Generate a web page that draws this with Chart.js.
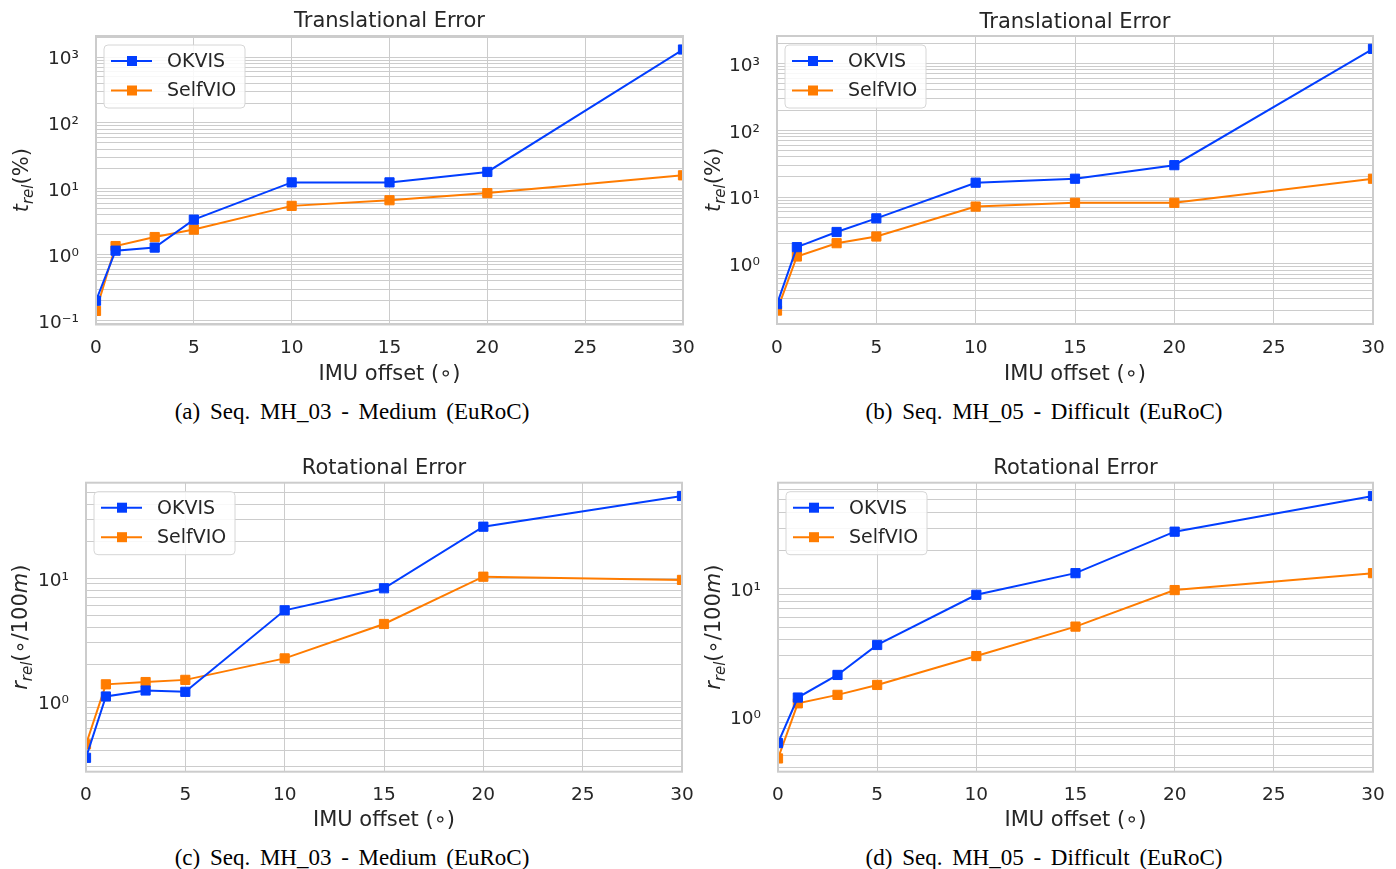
<!DOCTYPE html>
<html>
<head>
<meta charset="utf-8">
<script src="https://cdn.jsdelivr.net/npm/chart.js@4/dist/chart.umd.min.js"></script>
<style>
  body { margin: 0; background: #fff; width: 1396px; height: 869px; overflow: hidden; position: relative; }
  canvas { position: absolute; }
  .cap { position: absolute; width: 600px; text-align: center; font-family: "Liberation Serif", serif;
         font-size: 23px; line-height: 23px; word-spacing: 4px; color: #000; }
</style>
</head>
<body>
<canvas id="chartA" width="698" height="390" style="left:0;top:0"></canvas>
<canvas id="chartB" width="698" height="390" style="left:698px;top:0"></canvas>
<canvas id="chartC" width="698" height="400" style="left:0;top:440px"></canvas>
<canvas id="chartD" width="698" height="400" style="left:698px;top:440px"></canvas>
<div class="cap" style="left:52px;top:400px">(a) Seq. MH_03 - Medium (EuRoC)</div>
<div class="cap" style="left:744px;top:400px">(b) Seq. MH_05 - Difficult (EuRoC)</div>
<div class="cap" style="left:52px;top:846px">(c) Seq. MH_03 - Medium (EuRoC)</div>
<div class="cap" style="left:744px;top:846px">(d) Seq. MH_05 - Difficult (EuRoC)</div>
<script>
// IMU offsets (degrees) shared by every panel
const offsets = [0, 1, 3, 5, 10, 15, 20, 30];

// translational error t_rel (%)
const okvisTransMH03 = [0.2, 1.15, 1.28, 3.4, 12.5, 12.5, 18, 1300];
const selfvioTransMH03 = [0.14, 1.35, 1.85, 2.4, 5.5, 6.7, 8.6, 16];
const okvisTransMH05 = [0.25, 1.78, 3.0, 4.8, 16.4, 18.8, 30, 1650];
const selfvioTransMH05 = [0.2, 1.29, 2.04, 2.57, 7.2, 8.2, 8.2, 18.8];

// rotational error r_rel (deg/100m)
const okvisRotMH03 = [0.35, 1.1, 1.23, 1.2, 5.5, 8.3, 26.2, 46.5];
const selfvioRotMH03 = [0.45, 1.38, 1.44, 1.5, 2.24, 4.26, 10.3, 9.7];
const okvisRotMH05 = [0.62, 1.41, 2.12, 3.64, 9.0, 13.3, 28.1, 53.5];
const selfvioRotMH05 = [0.47, 1.27, 1.48, 1.77, 2.98, 5.07, 9.8, 13.3];

const seriesNames = ["OKVIS", "SelfVIO"];
const xTickStep = 5;

const BLUE = '#023eff';
const ORANGE = '#ff7c00';
const GRID = '#cccccc';
const TEXT = '#262626';
const FONT = '"DejaVu Sans"';

Chart.defaults.font.family = FONT;
Chart.defaults.color = TEXT;

const SUP = {'-': '\u207B', '0': '\u2070', '1': '\u00B9', '2': '\u00B2', '3': '\u00B3', '4': '\u2074'};
function powLabel(v) {
    const e = Math.round(Math.log10(v));
    if (Math.abs(v - Math.pow(10, e)) > 1e-9 * v) return '';
    return '10' + String(e).split('').map(c => SUP[c]).join('');
}

const transLabel = [
    {t: 't', italic: true}, {t: 'rel', italic: true, sub: true}, {t: '(%)'}
];
const rotLabel = [
    {t: 'r', italic: true}, {t: 'rel', italic: true, sub: true},
    {t: '(\u2218/100'}, {t: 'm', italic: true}, {t: ')'}
];

// legend box, frame and y-axis label (with subscript)
const panelDecor = {
    id: 'panelDecor',
    afterDatasetsDraw(chart, args, opts) {
        const a = chart.chartArea, ctx = chart.ctx;
        ctx.save();
        ctx.strokeStyle = GRID;
        ctx.lineWidth = 2;
        ctx.strokeRect(a.left, a.top, a.right - a.left, a.bottom - a.top);

        // legend
        const bx = a.left + 8, by = a.top + 9, bw = 141, bh = 63;
        ctx.beginPath();
        ctx.roundRect(bx, by, bw, bh, 4);
        ctx.fillStyle = 'rgba(255,255,255,0.85)';
        ctx.fill();
        ctx.strokeStyle = '#d6d6d6';
        ctx.lineWidth = 1;
        ctx.stroke();
        chart.data.datasets.forEach((ds, i) => {
            const y = by + 16 + i * 29.5;
            ctx.strokeStyle = ds.borderColor;
            ctx.lineWidth = 2;
            ctx.beginPath();
            ctx.moveTo(bx + 7, y);
            ctx.lineTo(bx + 48, y);
            ctx.stroke();
            ctx.fillStyle = ds.borderColor;
            ctx.fillRect(bx + 23, y - 5, 10, 10);
            ctx.fillStyle = TEXT;
            ctx.font = '19px ' + FONT;
            ctx.textBaseline = 'middle';
            ctx.textAlign = 'left';
            ctx.fillText(ds.label, bx + 63, y + 1);
        });

        // y-axis title
        const fontOf = p => (p.italic ? 'italic ' : '') + (p.sub ? 15 : 21) + 'px ' + FONT;
        let total = 0;
        opts.yTitle.forEach(p => { ctx.font = fontOf(p); total += ctx.measureText(p.t).width; });
        ctx.translate(opts.yTitleX, (a.top + a.bottom) / 2);
        ctx.rotate(-Math.PI / 2);
        ctx.fillStyle = TEXT;
        ctx.textBaseline = 'alphabetic';
        let x = -total / 2;
        opts.yTitle.forEach(p => {
            ctx.font = fontOf(p);
            ctx.fillText(p.t, x, p.sub ? 12 : 7);
            x += ctx.measureText(p.t).width;
        });
        ctx.restore();
    }
};

function makePanel(id, title, okvis, selfvio, yMin, yMax, yTitle, box) {
    const canvas = document.getElementById(id);
    const W = canvas.width, H = canvas.height;
    return new Chart(canvas, {
        type: 'line',
        data: {
            datasets: [
                {label: seriesNames[0], data: offsets.map((x, i) => ({x, y: okvis[i]})), borderColor: BLUE, backgroundColor: BLUE},
                {label: seriesNames[1], data: offsets.map((x, i) => ({x, y: selfvio[i]})), borderColor: ORANGE, backgroundColor: ORANGE}
            ]
        },
        options: {
            responsive: false,
            animation: false,
            layout: {padding: {left: 0, top: box.titleTop, right: W - box.r, bottom: 0}},
            elements: {
                line: {borderWidth: 2, tension: 0},
                point: {pointStyle: 'rect', radius: 6.5, borderWidth: 1, hoverRadius: 6.5}
            },
            scales: {
                x: {
                    type: 'linear', min: 0, max: 30,
                    ticks: {stepSize: xTickStep, font: {size: 18.5}, padding: box.xTickPad, color: TEXT},
                    grid: {color: GRID, lineWidth: 1, drawTicks: false},
                    border: {display: false},
                    title: {display: true, text: 'IMU offset (\u2218)', font: {size: 21}, color: TEXT,
                            padding: {top: 0, bottom: box.xTitleBottom}},
                    afterFit: s => { s.height = H - box.b; s.paddingLeft = 0; s.paddingRight = 0; }
                },
                y: {
                    type: 'logarithmic', min: yMin, max: yMax,
                    afterBuildTicks: s => {
                        const t = [];
                        for (let e = Math.floor(Math.log10(s.min)); e <= Math.ceil(Math.log10(s.max)); e++) {
                            for (let m = 1; m < 10; m++) {
                                const v = m * Math.pow(10, e);
                                if (v >= s.min && v <= s.max) t.push({value: v});
                            }
                        }
                        s.ticks = t;
                    },
                    ticks: {autoSkip: false, callback: v => powLabel(v), font: {size: 18.5}, padding: 17,
                            labelOffset: 2.5, color: TEXT},
                    grid: {color: GRID, lineWidth: 1, drawTicks: false},
                    border: {display: false},
                    afterFit: s => { s.width = box.l; s.paddingTop = 0; s.paddingBottom = 0; }
                }
            },
            plugins: {
                legend: {display: false},
                tooltip: {enabled: false},
                title: {display: true, text: title, fullSize: false, color: TEXT,
                        font: {size: 21, weight: 'normal'},
                        padding: {top: 0, bottom: box.t - box.titleTop - 25.2}},
                panelDecor: {yTitle: yTitle, yTitleX: box.yTitleX}
            }
        },
        plugins: [panelDecor]
    });
}

makePanel('chartA', 'Translational Error', okvisTransMH03, selfvioTransMH03, 0.087, 2085, transLabel,
    {l: 96, t: 36, r: 683, b: 324.5, titleTop: 9.4, xTickPad: 13, xTitleBottom: 2.4, yTitleX: 21});
makePanel('chartB', 'Translational Error', okvisTransMH05, selfvioTransMH05, 0.126, 2570, transLabel,
    {l: 79, t: 36, r: 675, b: 324, titleTop: 10.2, xTickPad: 13, xTitleBottom: 2.4, yTitleX: 15});
makePanel('chartC', 'Rotational Error', okvisRotMH03, selfvioRotMH03, 0.27, 59.6, rotLabel,
    {l: 86, t: 42.7, r: 682, b: 331.7, titleTop: 16.2, xTickPad: 12.2, xTitleBottom: 6.4, yTitleX: 20});
makePanel('chartD', 'Rotational Error', okvisRotMH05, selfvioRotMH05, 0.37, 68, rotLabel,
    {l: 80, t: 42.7, r: 675, b: 331.7, titleTop: 16.2, xTickPad: 12.2, xTitleBottom: 6.4, yTitleX: 15});
</script>
</body>
</html>
